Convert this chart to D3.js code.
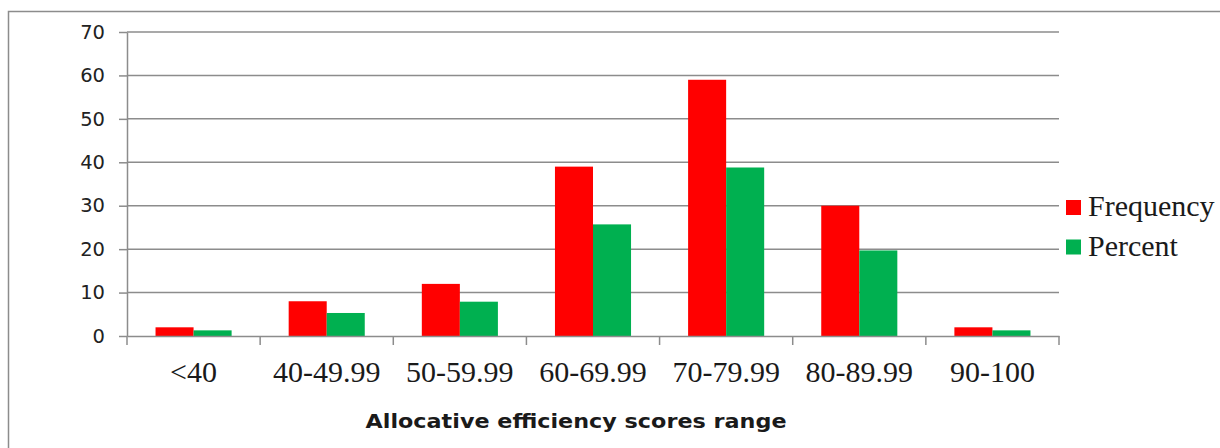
<!DOCTYPE html>
<html>
<head>
<meta charset="utf-8">
<script src="https://cdn.jsdelivr.net/npm/d3@7"></script>
<style>
  html, body { margin: 0; padding: 0; background: #fff; }
  svg { display: block; }
</style>
</head>
<body>
<svg id="chart" width="1220" height="448"></svg>
<script>
// Allocative efficiency score ranges and the two series drawn for each
const categories = ["<40", "40-49.99", "50-59.99", "60-69.99", "70-79.99", "80-89.99", "90-100"];
const frequency = [2, 8, 12, 39, 59, 30, 2];
const percent = [1.3, 5.3, 7.9, 25.7, 38.8, 19.7, 1.3];
const seriesNames = ["Frequency", "Percent"];
const seriesColors = ["#ff0000", "#00b050"];
const yTicks = [0, 10, 20, 30, 40, 50, 60, 70];

const svg = d3.select("#chart");
const margin = { left: 127, right: 1059, top: 32, bottom: 336 };

// chart frame
svg.append("rect")
  .attr("x", 8.5).attr("y", 11.5)
  .attr("width", 1230).attr("height", 460)
  .attr("fill", "none")
  .attr("stroke", "#8c8c8c")
  .attr("stroke-width", 1.5);

const x0 = d3.scaleBand()
  .domain(categories)
  .range([margin.left, margin.right])
  .paddingInner(0)
  .paddingOuter(0);

// bar group occupies 2 bar widths out of 3.5 (gap width 150%)
const groupFrac = 2 / 3.5;
const x1 = d3.scaleBand()
  .domain(seriesNames)
  .range([0, x0.bandwidth() * groupFrac]);

const y = d3.scaleLinear().domain([0, 70]).range([margin.bottom, margin.top]);

// horizontal gridlines
svg.append("g")
  .selectAll("line")
  .data(yTicks.filter(d => d > 0))
  .join("line")
  .attr("x1", margin.left).attr("x2", margin.right)
  .attr("y1", d => y(d)).attr("y2", d => y(d))
  .attr("stroke", "#8c8c8c")
  .attr("stroke-width", 1.5);

// y axis
const yAxis = svg.append("g")
  .attr("transform", `translate(${margin.left},0)`)
  .call(d3.axisLeft(y).tickValues(yTicks).tickSize(8).tickPadding(14).tickSizeOuter(0));
yAxis.select(".domain").attr("stroke", "#8c8c8c").attr("stroke-width", 1.5);
yAxis.selectAll(".tick line").attr("stroke", "#8c8c8c").attr("stroke-width", 1.5);
yAxis.selectAll(".tick text")
  .attr("font-family", "DejaVu Sans, Verdana, sans-serif")
  .attr("font-size", 19.5)
  .attr("fill", "#222");

// bars
const rows = categories.map((c, i) => ({ cat: c, values: [frequency[i], percent[i]] }));
const offset = x0.bandwidth() * (1 - groupFrac) / 2;
svg.append("g")
  .selectAll("g")
  .data(rows)
  .join("g")
  .attr("transform", d => `translate(${x0(d.cat) + offset},0)`)
  .selectAll("rect")
  .data(d => d.values.map((v, j) => ({ name: seriesNames[j], value: v, color: seriesColors[j] })))
  .join("rect")
  .attr("x", d => x1(d.name))
  .attr("width", x1.bandwidth())
  .attr("y", d => y(d.value))
  .attr("height", d => y(0) - y(d.value))
  .attr("fill", d => d.color);

// x axis
const xAxis = svg.append("g")
  .attr("transform", `translate(0,${margin.bottom})`)
  .call(d3.axisBottom(x0).tickSize(0).tickPadding(0).tickSizeOuter(0));
xAxis.select(".domain").attr("stroke", "#8c8c8c").attr("stroke-width", 1.5);
xAxis.selectAll(".tick text")
  .attr("font-family", "Liberation Serif, Times New Roman, serif")
  .attr("font-size", 30)
  .attr("fill", "#1a1a1a")
  .attr("dy", null)
  .attr("y", 46);
// category separators below the axis line
svg.append("g")
  .selectAll("line")
  .data(d3.range(categories.length + 1))
  .join("line")
  .attr("x1", i => margin.left + i * x0.step())
  .attr("x2", i => margin.left + i * x0.step())
  .attr("y1", margin.bottom).attr("y2", margin.bottom + 9)
  .attr("stroke", "#8c8c8c")
  .attr("stroke-width", 1.5);

// axis title
svg.append("text")
  .attr("x", 576).attr("y", 428)
  .attr("text-anchor", "middle")
  .attr("font-family", "DejaVu Sans, Verdana, sans-serif")
  .attr("font-weight", "bold")
  .attr("font-size", 20)
  .attr("textLength", 421)
  .attr("lengthAdjust", "spacingAndGlyphs")
  .attr("fill", "#1a1a1a")
  .text("Allocative efficiency scores range");

// legend
const legend = svg.append("g").attr("transform", "translate(1066,200)");
seriesNames.forEach((name, i) => {
  const g = legend.append("g").attr("transform", `translate(0,${i * 39.5})`);
  g.append("rect").attr("width", 15).attr("height", 15).attr("fill", seriesColors[i]);
  g.append("text")
    .attr("x", 22).attr("y", 16)
    .attr("font-family", "Liberation Serif, Times New Roman, serif")
    .attr("font-size", 30)
    .attr("fill", "#1a1a1a")
    .text(name);
});
</script>
</body>
</html>
